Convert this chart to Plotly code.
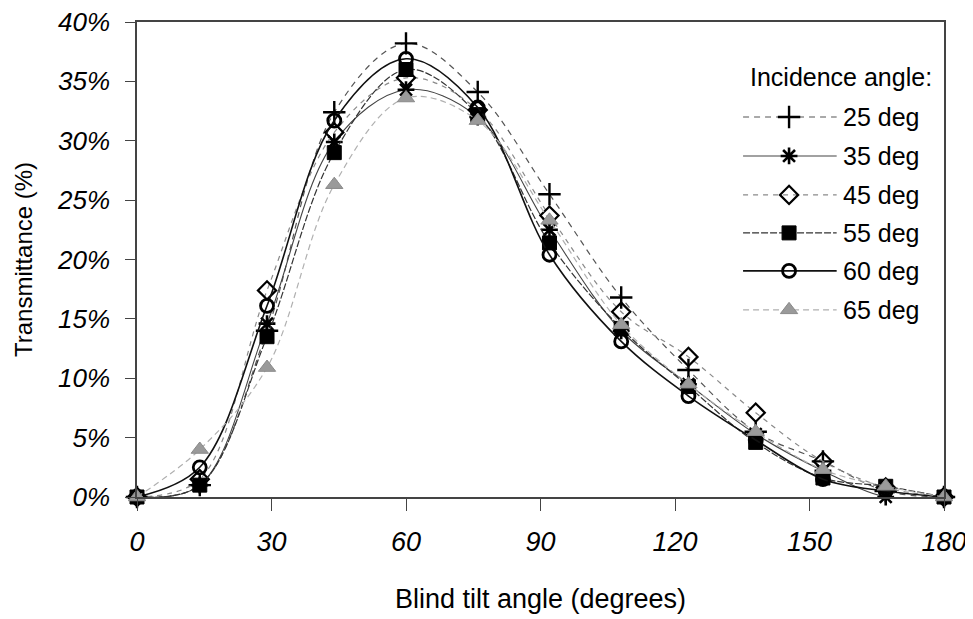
import plotly.graph_objects as go

# ---------------- data ----------------
tilt_angles = [0, 14, 29, 44, 60, 76, 92, 108, 123, 138, 153, 167, 180]
series_names = ["25 deg", "35 deg", "45 deg", "55 deg", "60 deg", "65 deg"]
t25 = [0, 1.0, 14.0, 32.4, 38.2, 34.1, 25.5, 16.8, 10.7, 5.5, 3.0, 0.5, 0]
t35 = [0, 1.0, 14.6, 29.9, 34.3, 32.0, 22.5, 14.0, 9.5, 5.3, 2.2, 0.0, 0]
t45 = [0, 1.5, 17.4, 30.7, 35.3, 32.6, 23.7, 15.6, 11.8, 7.1, 3.0, 0.8, 0]
t55 = [0, 1.0, 13.5, 29.0, 36.0, 32.2, 21.4, 14.2, 9.3, 4.6, 1.6, 0.9, 0]
t60 = [0, 2.5, 16.1, 31.7, 36.9, 32.8, 20.4, 13.1, 8.5, 4.8, 1.5, 0.5, 0]
t65 = [0, 4.0, 10.9, 26.3, 33.6, 31.7, 23.3, 14.5, 9.5, 5.5, 2.3, 0.9, 0]
x_ticks = [0, 30, 60, 90, 120, 150, 180]
y_ticks = [0, 5, 10, 15, 20, 25, 30, 35, 40]
legend_title = "Incidence angle:"

values = [t25, t35, t45, t55, t60, t65]

FONT = "Liberation Sans, Arial, sans-serif"

styles = [
    dict(line=dict(color="#555555", width=1.2, dash="6px,5px"),
         marker=dict(symbol="cross-thin", size=16, color="black", line=dict(color="black", width=2.4))),
    dict(line=dict(color="#444444", width=1.1, dash="solid"),
         marker=dict(symbol="asterisk-open", size=14, color="black", line=dict(color="black", width=2.6))),
    dict(line=dict(color="#8a8a8a", width=1.2, dash="5px,5px"),
         marker=dict(symbol="diamond-open", size=14, color="black", line=dict(color="black", width=2.2))),
    dict(line=dict(color="#333333", width=1.2, dash="7px,2px"),
         marker=dict(symbol="square", size=14, color="black", line=dict(color="black", width=1))),
    dict(line=dict(color="#111111", width=1.6, dash="solid"),
         marker=dict(symbol="circle-open", size=13, color="black", line=dict(color="black", width=2.8))),
    dict(line=dict(color="#b0b0b0", width=1.2, dash="6px,4px"),
         marker=dict(symbol="triangle-up", size=15, color="#9a9a9a", line=dict(color="#8a8a8a", width=1))),
]

fig = go.Figure()
for name, vals, st in zip(series_names, values, styles):
    fig.add_trace(go.Scatter(
        x=tilt_angles, y=vals, name=name, mode="lines+markers",
        line=dict(shape="spline", smoothing=1.0, **st["line"]),
        marker=st["marker"], cliponaxis=False, showlegend=False,
    ))

# ---- custom legend drawn on an overlay axis (0..1 space over the plot area) ----
row_y = [0.800, 0.718, 0.636, 0.556, 0.476, 0.394]
lx0, lx1, lxm, ltext = 0.751, 0.867, 0.808, 0.872
for name, st, yy in zip(series_names, styles, row_y):
    fig.add_trace(go.Scatter(
        x=[lx0, lx1], y=[yy, yy], mode="lines", line=st["line"],
        xaxis="x2", yaxis="y2", showlegend=False, hoverinfo="skip"))
    fig.add_trace(go.Scatter(
        x=[lxm], y=[yy], mode="markers", marker=st["marker"],
        xaxis="x2", yaxis="y2", showlegend=False, hoverinfo="skip", cliponaxis=False))
    fig.add_annotation(x=ltext, y=yy, xref="x2", yref="y2", text=name,
                       showarrow=False, xanchor="left", yanchor="middle",
                       font=dict(family=FONT, size=25, color="black"))
fig.add_annotation(x=0.987, y=0.884, xref="x2", yref="y2", text=legend_title,
                   showarrow=False, xanchor="right", yanchor="middle",
                   font=dict(family=FONT, size=25, color="black"))

# The page body has an 8px margin, so the figure is sized/margined to compensate.
fig.update_layout(
    width=965, height=611,
    margin=dict(l=129, r=29, t=14, b=122),
    paper_bgcolor="white", plot_bgcolor="white",
    font=dict(family=FONT, color="black"),
    showlegend=False,
    xaxis=dict(
        range=[0, 180], tickvals=x_ticks, ticktext=[str(v) for v in x_ticks],
        automargin=False, ticklabeloverflow="allow",
        showgrid=False, zeroline=False, showline=True, linecolor="#444444", linewidth=1.5,
        mirror=True, ticks="outside", ticklen=12, tickcolor="#444444", tickwidth=1.2,
        tickfont=dict(family=FONT, size=27, style="italic", color="black"),
        ticklabelstandoff=8,
        title=dict(text="Blind tilt angle (degrees)", font=dict(family=FONT, size=27), standoff=33),
    ),
    yaxis=dict(
        range=[0, 40], tickvals=y_ticks, ticktext=[f"{v}%" for v in y_ticks],
        automargin=False, ticklabeloverflow="allow",
        showgrid=False, zeroline=False, showline=True, linecolor="#444444", linewidth=1.5,
        mirror=True, ticks="outside", ticklen=10, tickcolor="#444444", tickwidth=1.2,
        tickfont=dict(family=FONT, size=26, style="italic", color="black"),
        ticklabelstandoff=10,
        title=dict(text="Transmittance (%)", font=dict(family=FONT, size=24), standoff=18),
    ),
    xaxis2=dict(range=[0, 1], domain=[0, 1], overlaying="x", visible=False, fixedrange=True),
    yaxis2=dict(range=[0, 1], domain=[0, 1], overlaying="y", visible=False, fixedrange=True),
)

fig.write_html("out.html")
